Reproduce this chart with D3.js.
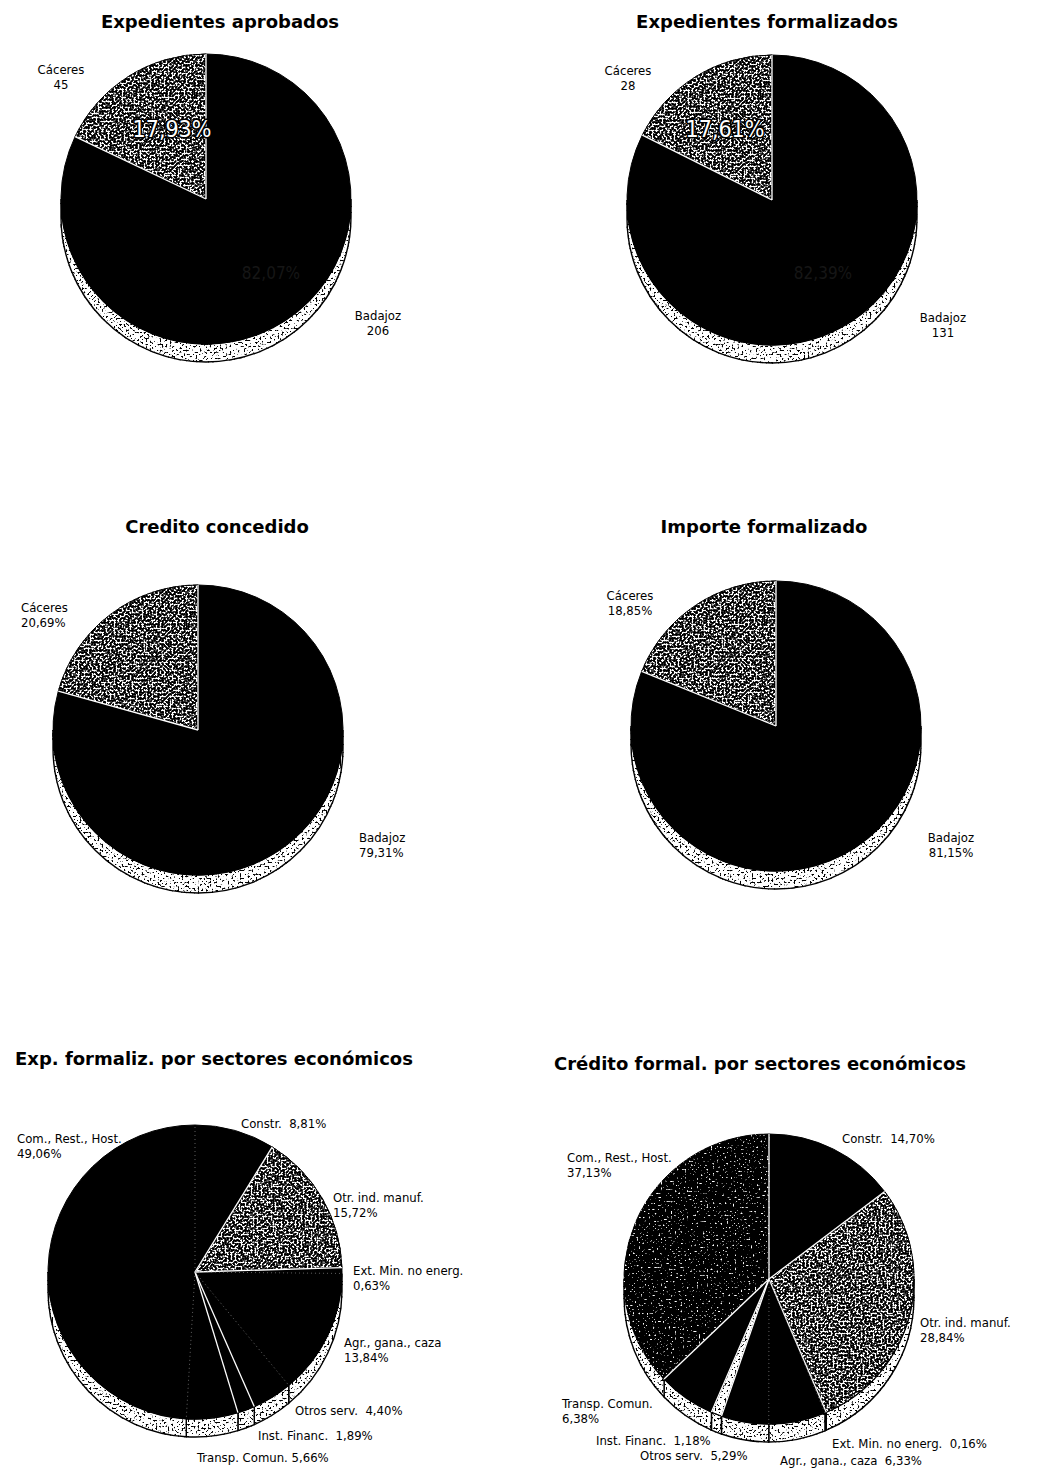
<!DOCTYPE html>
<html>
<head>
<meta charset="utf-8">
<script src="https://cdn.jsdelivr.net/npm/d3@7"></script>
<style>
  body { margin: 0; background: #fff; }
  text { white-space: pre; }
</style>
</head>
<body>
<div id="chart"></div>
<script>
// ---- data ----
const provinces = ['Badajoz', 'Cáceres'];
const expAprobados = [206, 45];
const expFormalizados = [131, 28];
const creditoConcedido = [79.31, 20.69];
const importeFormalizado = [81.15, 18.85];

const sectors = ['Constr.', 'Otr. ind. manuf.', 'Ext. Min. no energ.', 'Agr., gana., caza',
  'Otros serv.', 'Inst. Financ.', 'Transp. Comun.', 'Com., Rest., Host.'];
const expSectores = [8.81, 15.72, 0.63, 13.84, 4.40, 1.89, 5.66, 49.06];
const creditoSectores = [14.70, 28.84, 0.16, 6.33, 5.29, 1.18, 6.38, 37.13];

// fill keys
const provinceFills = ['black', 'stipple'];
const expSectorFills = ['black', 'stipple', 'black', 'black', 'black', 'edged', 'black', 'black'];
const credSectorFills = ['black', 'stipple', 'black', 'black', 'black', 'light', 'black', 'dark'];

const W = 1038, H = 1478;
const DEPTH = 18;
const TITLE_FONT = "'DejaVu Sans', sans-serif";
const LABEL_FONT = "'Liberation Sans Narrow', 'DejaVu Sans Condensed', 'DejaVu Sans', sans-serif";

const fmtPct = v => d3.format('.2f')(v).replace('.', ',') + '%';
const fmtCount = v => String(v);

// label layout (positions only, text comes from the arrays above)
const panels = [
  { title: 'Expedientes aprobados', tx: 220, ty: 28, cx: 206, cy: 199, r: 145,
    names: provinces, values: expAprobados, fills: provinceFills, fmt: fmtCount, inner: true,
    innerPos: [[65, 74], [-34, -70]],
    labels: [{ x: 378, y: 320, a: 'middle', lines: 2 }, { x: 61, y: 74, a: 'middle', lines: 2 }] },
  { title: 'Expedientes formalizados', tx: 767, ty: 28, cx: 772, cy: 200, r: 145,
    names: provinces, values: expFormalizados, fills: provinceFills, fmt: fmtCount, inner: true,
    innerPos: [[51, 73], [-47, -71]],
    labels: [{ x: 943, y: 322, a: 'middle', lines: 2 }, { x: 628, y: 75, a: 'middle', lines: 2 }] },
  { title: 'Credito concedido', tx: 217, ty: 533, cx: 198, cy: 730, r: 145,
    names: provinces, values: creditoConcedido, fills: provinceFills, fmt: fmtPct,
    labels: [{ x: 359, y: 842, a: 'start', lines: 2 }, { x: 21, y: 612, a: 'start', lines: 2 }] },
  { title: 'Importe formalizado', tx: 764, ty: 533, cx: 776, cy: 726, r: 145,
    names: provinces, values: importeFormalizado, fills: provinceFills, fmt: fmtPct,
    labels: [{ x: 951, y: 842, a: 'middle', lines: 2 }, { x: 630, y: 600, a: 'middle', lines: 2 }] },
  { title: 'Exp. formaliz. por sectores económicos', tx: 214, ty: 1065, cx: 195, cy: 1272, r: 147,
    names: sectors, values: expSectores, fills: expSectorFills, fmt: fmtPct,
    labels: [
      { x: 241, y: 1128, a: 'start', lines: 1 },
      { x: 333, y: 1202, a: 'start', lines: 2 },
      { x: 353, y: 1275, a: 'start', lines: 2 },
      { x: 344, y: 1347, a: 'start', lines: 2 },
      { x: 295, y: 1415, a: 'start', lines: 1 },
      { x: 258, y: 1440, a: 'start', lines: 1 },
      { x: 197, y: 1462, a: 'start', lines: 1, sep: ' ' },
      { x: 17, y: 1143, a: 'start', lines: 2 }] },
  { title: 'Crédito formal. por sectores económicos', tx: 760, ty: 1070, cx: 769, cy: 1279, r: 145,
    names: sectors, values: creditoSectores, fills: credSectorFills, fmt: fmtPct,
    labels: [
      { x: 842, y: 1143, a: 'start', lines: 1 },
      { x: 920, y: 1327, a: 'start', lines: 2 },
      { x: 832, y: 1448, a: 'start', lines: 1 },
      { x: 780, y: 1465, a: 'start', lines: 1 },
      { x: 640, y: 1460, a: 'start', lines: 1 },
      { x: 596, y: 1445, a: 'start', lines: 1 },
      { x: 562, y: 1408, a: 'start', lines: 2 },
      { x: 567, y: 1162, a: 'start', lines: 2 }] }
];

const svg = d3.select('#chart').append('svg').attr('width', W).attr('height', H);
const defs = svg.append('defs');

// grainy print texture: noise thresholded into specks, clipped to the shape
function stippleFilter(id, slope, offset, white) {
  const c = white ? 1 : 0;
  const f = defs.append('filter').attr('id', id).attr('color-interpolation-filters', 'sRGB');
  f.append('feTurbulence').attr('type', 'fractalNoise').attr('baseFrequency', 0.5)
    .attr('numOctaves', 2).attr('seed', 11).attr('result', 'noise');
  f.append('feColorMatrix').attr('in', 'noise').attr('type', 'matrix')
    .attr('values', `0 0 0 0 ${c}  0 0 0 0 ${c}  0 0 0 0 ${c}  ${slope} 0 0 0 ${offset}`)
    .attr('result', 'dots');
  f.append('feComposite').attr('in', 'dots').attr('in2', 'SourceGraphic').attr('operator', 'in').attr('result', 'clip');
  const m = f.append('feMerge');
  m.append('feMergeNode').attr('in', 'SourceGraphic');
  m.append('feMergeNode').attr('in', 'clip');
}
stippleFilter('stip', -10, 5.8, false);
stippleFilter('rimstip', -10, 4.3, false);
stippleFilter('darkstip', 10, -6.5, true);

const fillStyle = {
  black: { fill: '#000', filter: null },
  edged: { fill: '#000', filter: null },
  stipple: { fill: '#fff', filter: 'url(#stip)' },
  light: { fill: '#fff', filter: 'url(#rimstip)' },
  dark: { fill: '#000', filter: 'url(#darkstip)' }
};

const pie = d3.pie().sort(null).value(d => d.value);

panels.forEach(p => {
  const data = p.values.map((v, i) => ({ name: p.names[i], value: v, fill: p.fills[i], lab: p.labels[i] }));
  const arcs = pie(data);
  const total = d3.sum(p.values);
  const g = svg.append('g');

  // side wall (3D depth), only the front half is visible
  const lo = Math.PI / 2, hi = 3 * Math.PI / 2;
  arcs.forEach(a => {
    const a0 = Math.max(a.startAngle, lo), a1 = Math.min(a.endAngle, hi);
    if (a1 <= a0) return;
    const t0 = a0 - Math.PI / 2, t1 = a1 - Math.PI / 2;
    const path = d3.path();
    path.moveTo(p.cx + p.r * Math.cos(t0), p.cy + p.r * Math.sin(t0));
    path.arc(p.cx, p.cy, p.r, t0, t1);
    path.lineTo(p.cx + p.r * Math.cos(t1), p.cy + DEPTH + p.r * Math.sin(t1));
    path.arc(p.cx, p.cy + DEPTH, p.r, t1, t0, true);
    path.closePath();
    g.append('path').attr('d', path.toString())
      .attr('fill', '#fff').attr('filter', 'url(#rimstip)')
      .attr('stroke', '#000').attr('stroke-width', 1.4);
  });

  // top face
  const arc = d3.arc().innerRadius(0).outerRadius(p.r);
  const top = g.append('g').attr('transform', `translate(${p.cx},${p.cy})`);
  top.selectAll('path.slice').data(arcs).join('path')
    .attr('class', 'slice')
    .attr('d', arc)
    .attr('fill', d => fillStyle[d.data.fill].fill)
    .attr('filter', d => fillStyle[d.data.fill].filter)
    .attr('stroke', '#000').attr('stroke-width', 1);

  // radial edges between slices
  arcs.forEach((a, i) => {
    const prev = arcs[(i - 1 + arcs.length) % arcs.length];
    const plain = a.data.fill === 'black' && prev.data.fill === 'black';
    const ang = a.startAngle;
    top.append('line')
      .attr('x1', 0).attr('y1', 0)
      .attr('x2', p.r * Math.sin(ang)).attr('y2', -p.r * Math.cos(ang))
      .attr('stroke', plain ? '#777' : '#fff')
      .attr('stroke-width', plain ? 0.8 : 1.3)
      .attr('stroke-dasharray', plain ? '1,3' : null);
  });

  // shares printed on the slices (first two charts)
  if (p.inner) {
    arcs.forEach((a, i) => {
      const share = fmtPct(a.data.value / total * 100);
      const isLight = a.data.fill !== 'black';
      top.append('text')
        .attr('x', p.innerPos[i][0]).attr('y', p.innerPos[i][1])
        .attr('dy', '0.35em').attr('text-anchor', 'middle')
        .attr('font-family', LABEL_FONT).attr('font-size', isLight ? 23 : 17)
        .attr('fill', isLight ? '#fff' : '#161616')
        .attr('stroke', isLight ? '#000' : 'none').attr('stroke-width', 3)
        .attr('stroke-linejoin', 'round')
        .attr('paint-order', 'stroke')
        .text(share);
    });
  }

  // outside labels
  arcs.forEach(a => {
    const L = a.data.lab;
    const val = p.fmt(a.data.value);
    const lines = L.lines === 2 ? [a.data.name, val] : [a.data.name + (L.sep || '  ') + val];
    const t = g.append('text')
      .attr('font-family', LABEL_FONT).attr('font-size', 13)
      .attr('fill', '#000').attr('text-anchor', L.a);
    lines.forEach((s, k) => {
      t.append('tspan').attr('x', L.x).attr('y', L.y + k * 15).text(s);
    });
  });

  // title
  svg.append('text')
    .attr('x', p.tx).attr('y', p.ty).attr('text-anchor', 'middle')
    .attr('font-family', TITLE_FONT).attr('font-weight', 'bold').attr('font-size', 18)
    .attr('fill', '#000')
    .text(p.title);
});
</script>
</body>
</html>
